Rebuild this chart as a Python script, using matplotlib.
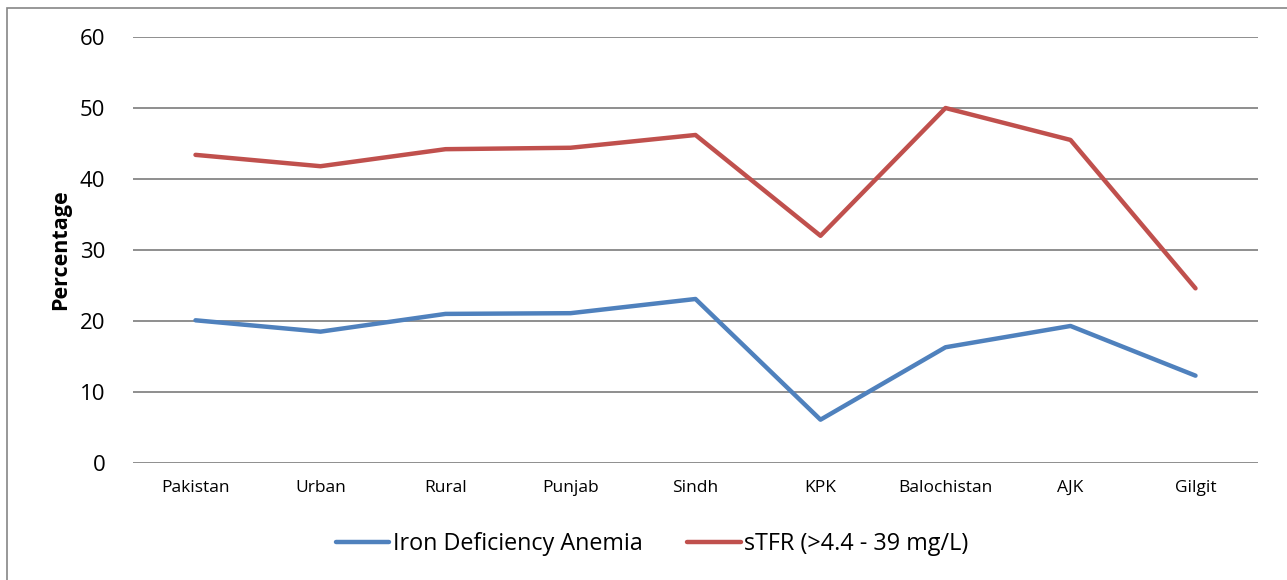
import matplotlib
matplotlib.use("Agg")
import matplotlib.pyplot as plt
from matplotlib.patches import Rectangle

categories = ["Pakistan", "Urban", "Rural", "Punjab", "Sindh", "KPK", "Balochistan", "AJK", "Gilgit"]
ida = [20.1, 18.5, 21.0, 21.1, 23.1, 6.1, 16.3, 19.3, 12.3]
stfr = [43.4, 41.8, 44.2, 44.4, 46.2, 32.0, 50.0, 45.5, 24.6]
yticks = [0, 10, 20, 30, 40, 50, 60]

plt.rcParams['font.family'] = ['Open Sans', 'DejaVu Sans']

fig = plt.figure(figsize=(12.87, 5.8), dpi=100)
ax = fig.add_axes([133/1287, 1-463/580, 1125/1287, 426/580])

x = list(range(len(categories)))
ax.plot(x, ida, color="#4F81BD", lw=3.2, label="Iron Deficiency Anemia", solid_capstyle="round")
ax.plot(x, stfr, color="#C0504D", lw=3.2, label="sTFR (>4.4 - 39 mg/L)", solid_capstyle="round")

ax.set_xlim(-0.5, len(categories)-0.5)
ax.set_ylim(0, 60)
ax.set_yticks(yticks)
ax.set_yticklabels([str(v) for v in yticks], fontsize=16)
ax.set_xticks(x)
ax.set_xticklabels(categories, fontsize=12.5)
ax.tick_params(axis='both', length=0)
ax.tick_params(axis='y', pad=20)
ax.tick_params(axis='x', pad=12)
for s in ax.spines.values():
    s.set_visible(False)
ax.grid(axis='y', color="#868686", lw=1.3)
ax.set_axisbelow(True)
ax.set_ylabel("Percentage", fontsize=15.5, fontweight='bold', labelpad=6)

leg = fig.legend(loc='center', bbox_to_anchor=(652/1287, 1-544/580), ncol=2, frameon=False,
                 fontsize=16.8, handlelength=2.3, handletextpad=0.15, columnspacing=1.9)

fig.patches.append(Rectangle((7/1287, -0.1), 1.2, 1-8/580+0.1, transform=fig.transFigure,
                             fill=False, edgecolor="#868686", lw=1.2))

fig.savefig("out.png", dpi=100, facecolor="white")
